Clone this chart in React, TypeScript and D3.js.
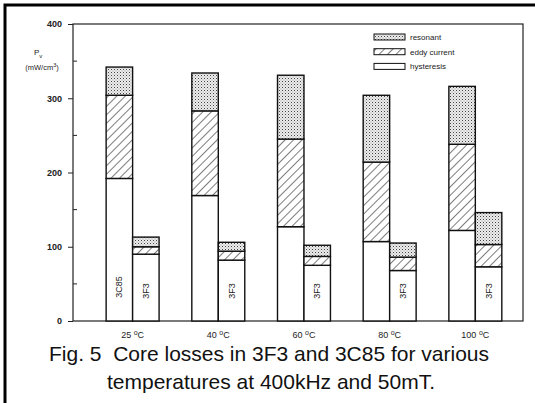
import React, { useRef, useEffect } from 'react';
import * as d3 from 'd3';

const TEMPS = ['25', '40', '60', '80', '100'];
const MATERIALS = ['3C85', '3F3'];
const COMPONENTS = ['hysteresis', 'eddy', 'resonant'];
const LEGEND_LABELS = ['resonant', 'eddy current', 'hysteresis'];

// loss components in mW/cm3, per temperature
const HYST_3C85 = [192, 169, 127, 107, 122];
const EDDY_3C85 = [112, 114, 118, 107, 116];
const RES_3C85 = [38, 51, 86, 90, 78];
const HYST_3F3 = [90, 82, 75, 68, 73];
const EDDY_3F3 = [10, 12, 12, 18, 30];
const RES_3F3 = [13, 12, 15, 19, 43];

const Y_TICKS = [0, 100, 200, 300, 400];
const Y_MINOR = [50, 150, 250, 350];

const FONT = 'Liberation Sans, Arial, sans-serif';

interface Row {
  temp: string;
  material: string;
  hysteresis: number;
  eddy: number;
  resonant: number;
}

const ROWS: Row[] = TEMPS.flatMap((t, i) => [
  { temp: t, material: '3C85', hysteresis: HYST_3C85[i], eddy: EDDY_3C85[i], resonant: RES_3C85[i] },
  { temp: t, material: '3F3', hysteresis: HYST_3F3[i], eddy: EDDY_3F3[i], resonant: RES_3F3[i] },
]);

const FILLS: Record<string, string> = {
  hysteresis: '#fff',
  eddy: 'url(#hatch)',
  resonant: 'url(#dots)',
};

const App: React.FC = () => {
  const svgRef = useRef<SVGSVGElement>(null);

  useEffect(() => {
    if (!svgRef.current) return;
    const W = 535;
    const H = 403;
    const left = 73, right = 523, top = 24, bottom = 321;

    const svg = d3.select(svgRef.current);
    svg.selectAll('*').remove();
    svg.attr('width', W).attr('height', H).attr('viewBox', `0 0 ${W} ${H}`);

    // patterns
    const defs = svg.append('defs');
    const dots = defs.append('pattern').attr('id', 'dots').attr('patternUnits', 'userSpaceOnUse')
      .attr('width', 3).attr('height', 3);
    dots.append('rect').attr('width', 3).attr('height', 3).attr('fill', '#ececec');
    dots.append('rect').attr('x', 0).attr('y', 0).attr('width', 1).attr('height', 1).attr('fill', '#444');
    dots.append('rect').attr('x', 1.5).attr('y', 1.5).attr('width', 1).attr('height', 1).attr('fill', '#999');
    const hatch = defs.append('pattern').attr('id', 'hatch').attr('patternUnits', 'userSpaceOnUse')
      .attr('width', 6).attr('height', 6).attr('patternTransform', 'rotate(45)');
    hatch.append('rect').attr('width', 6).attr('height', 6).attr('fill', '#fff');
    hatch.append('line').attr('x1', 0).attr('y1', 0).attr('x2', 0).attr('y2', 6)
      .attr('stroke', '#111').attr('stroke-width', 1.1);

    // frame
    svg.append('path').attr('d', `M5,403 V5 H535`).attr('fill', 'none')
      .attr('stroke', '#000').attr('stroke-width', 3);

    const x0 = d3.scaleBand().domain(TEMPS).range([left, right])
      .paddingInner(0.382).paddingOuter(0.317).align(0.61);
    const x1 = d3.scaleBand().domain(MATERIALS).range([0, x0.bandwidth()]).padding(0);
    const y = d3.scaleLinear().domain([0, 400]).range([bottom, top]);

    // plot box
    svg.append('rect').attr('x', left).attr('y', top).attr('width', right - left).attr('height', bottom - top)
      .attr('fill', 'none').attr('stroke', '#222').attr('stroke-width', 1.2);

    // y axis
    const yAxis = svg.append('g').attr('transform', `translate(${left},0)`)
      .call(d3.axisLeft(y).tickValues(Y_TICKS).tickSize(5).tickPadding(6).tickFormat(d3.format('d')));
    yAxis.select('.domain').remove();
    yAxis.selectAll('line').attr('stroke', '#222');
    yAxis.selectAll('text').attr('font-family', FONT).attr('font-size', '9px').attr('font-weight', 'bold')
      .attr('fill', '#222');
    svg.append('g').selectAll('line').data(Y_MINOR).join('line')
      .attr('x1', left).attr('x2', left + 4).attr('y1', d => y(d)).attr('y2', d => y(d))
      .attr('stroke', '#222');

    // y label
    const pv = svg.append('text').attr('x', 34).attr('y', 55).attr('font-family', FONT)
      .attr('font-size', '8px').attr('fill', '#222');
    pv.append('tspan').text('P');
    pv.append('tspan').attr('font-size', '6px').attr('dy', 2.5).text('v');
    const unit = svg.append('text').attr('x', 42).attr('y', 70).attr('text-anchor', 'middle')
      .attr('font-family', FONT).attr('font-size', '7.5px').attr('fill', '#222');
    unit.append('tspan').text('(mW/cm');
    unit.append('tspan').attr('font-size', '5.5px').attr('dy', -3).text('3');
    unit.append('tspan').attr('dy', 3).text(')');

    // stacked bars
    const stack = d3.stack<Row>().keys(COMPONENTS);
    const series = stack(ROWS);
    const g = svg.append('g');
    series.forEach(s => {
      g.append('g').selectAll('rect').data(s).join('rect')
        .attr('x', d => x0(d.data.temp)! + x1(d.data.material)!)
        .attr('y', d => y(d[1]))
        .attr('width', x1.bandwidth())
        .attr('height', d => y(d[0]) - y(d[1]))
        .attr('fill', FILLS[s.key])
        .attr('stroke', '#111')
        .attr('stroke-width', 1.4);
    });

    // labels inside bars
    svg.append('g').selectAll('text')
      .data(ROWS.filter(r => r.material === '3F3' || r.temp === '25'))
      .join('text')
      .attr('transform', d => {
        const cx = x0(d.temp)! + x1(d.material)! + x1.bandwidth() / 2;
        const cy = d.material === '3C85' ? 287 : 291;
        return `translate(${cx + 3},${cy}) rotate(-90)`;
      })
      .attr('text-anchor', 'middle')
      .attr('font-family', FONT).attr('font-size', '9px').attr('fill', '#222')
      .text(d => d.material);

    // x labels
    const xl = svg.append('g').selectAll('text').data(TEMPS).join('text')
      .attr('x', d => x0(d)! + x0.bandwidth() / 2)
      .attr('y', 338)
      .attr('text-anchor', 'middle')
      .attr('font-family', FONT).attr('font-size', '9px').attr('fill', '#222');
    xl.append('tspan').text(d => `${d} `);
    xl.append('tspan').attr('font-size', '7px').attr('dy', -3.5).text('o');
    xl.append('tspan').attr('dy', 3.5).text('C');

    // legend
    const legend = svg.append('g');
    LEGEND_LABELS.forEach((lab, i) => {
      const key = ['resonant', 'eddy', 'hysteresis'][i];
      const ly = 34 + i * 14.7;
      legend.append('rect').attr('x', 374).attr('y', ly).attr('width', 31).attr('height', 6)
        .attr('fill', FILLS[key]).attr('stroke', '#111').attr('stroke-width', 1);
      legend.append('text').attr('x', 410).attr('y', ly + 6).attr('font-family', FONT)
        .attr('font-size', '8px').attr('fill', '#222').text(lab);
    });

    // caption
    const cap = svg.append('text').attr('text-anchor', 'middle').attr('font-family', FONT)
      .attr('font-size', '21px').attr('fill', '#111').style('white-space', 'pre');
    cap.append('tspan').attr('x', 269).attr('y', 361)
      .text('Fig. 5  Core losses in 3F3 and 3C85 for various');
    cap.append('tspan').attr('x', 271).attr('y', 389).text('temperatures at 400kHz and 50mT.');
  }, []);

  return <svg ref={svgRef} style={{ position: 'absolute', left: 0, top: 0, background: '#fff' }} />;
};

export default App;
